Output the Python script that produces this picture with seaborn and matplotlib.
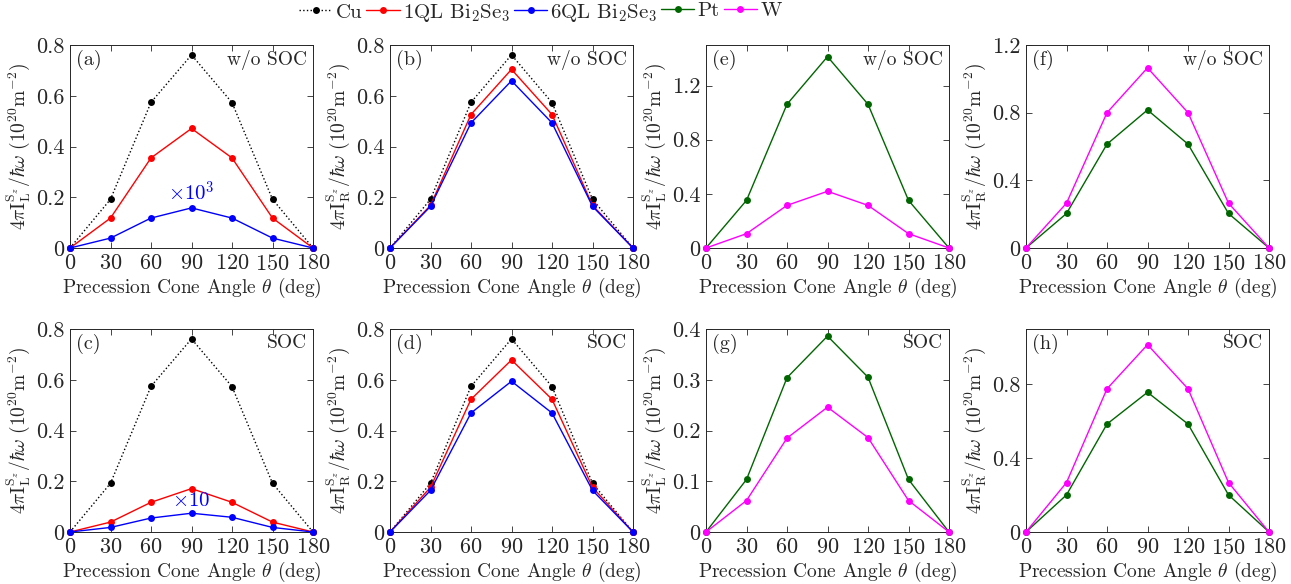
import numpy as np
import pandas as pd
import matplotlib
matplotlib.use("Agg")
import matplotlib.pyplot as plt
import seaborn as sns

# Data
theta = [0, 30, 60, 90, 120, 150, 180]

cu = [0, 0.192, 0.574, 0.761, 0.573, 0.192, 0]

# (a) L, w/o SOC
a_1ql = [0, 0.118, 0.355, 0.471, 0.355, 0.118, 0]
a_6ql = [0, 0.039, 0.118, 0.158, 0.118, 0.039, 0]
# (b) R, w/o SOC
b_1ql = [0, 0.168, 0.526, 0.704, 0.526, 0.168, 0]
b_6ql = [0, 0.164, 0.493, 0.659, 0.493, 0.164, 0]
# (c) L, SOC
c_1ql = [0, 0.039, 0.117, 0.171, 0.117, 0.039, 0]
c_6ql = [0, 0.018, 0.055, 0.074, 0.058, 0.018, 0]
# (d) R, SOC
d_1ql = [0, 0.176, 0.523, 0.678, 0.523, 0.176, 0]
d_6ql = [0, 0.164, 0.469, 0.594, 0.469, 0.164, 0]
# (e) L, w/o SOC
e_pt = [0, 0.352, 1.062, 1.414, 1.062, 0.352, 0]
e_w = [0, 0.106, 0.315, 0.419, 0.315, 0.106, 0]
# (f) R, w/o SOC
f_pt = [0, 0.204, 0.614, 0.816, 0.614, 0.204, 0]
f_w = [0, 0.265, 0.800, 1.065, 0.800, 0.265, 0]
# (g) L, SOC
g_pt = [0, 0.1035, 0.304, 0.386, 0.305, 0.1035, 0]
g_w = [0, 0.062, 0.185, 0.246, 0.186, 0.062, 0]
# (h) R, SOC
h_pt = [0, 0.201, 0.585, 0.757, 0.585, 0.201, 0]
h_w = [0, 0.268, 0.776, 1.015, 0.776, 0.268, 0]

names = ["Cu", "1QL Bi$_2$Se$_3$", "6QL Bi$_2$Se$_3$", "Pt", "W"]
colors = ["black", "#ff0000", "#0000ff", "#006600", "#ff00ff"]

sns.set_theme(style="ticks")
plt.rcParams["font.family"] = "serif"
plt.rcParams["font.serif"] = ["cmr10", "DejaVu Serif"]
plt.rcParams["mathtext.fontset"] = "cm"
plt.rcParams["axes.formatter.use_mathtext"] = True
plt.rcParams["axes.unicode_minus"] = False

fig = plt.figure(figsize=(12.91, 5.84), dpi=100)

lefts = [70, 390, 706, 1026]
width = 243 / 1291
row_bottom = [(584 - 248) / 584, (584 - 532) / 584]
height = 203 / 584

ylab_L = r"$4\pi\mathrm{I}_\mathrm{L}^{\mathrm{S}_z}/\hbar\omega\ (10^{20}\mathrm{m}^{-2})$"
ylab_R = r"$4\pi\mathrm{I}_\mathrm{R}^{\mathrm{S}_z}/\hbar\omega\ (10^{20}\mathrm{m}^{-2})$"

panels = [
    # label, row, col, series, ylabel, ymax, yticks, soc text
    ("(a)", 0, 0, [(cu, 0), (a_1ql, 1), (a_6ql, 2)], ylab_L, 0.8, [0, 0.2, 0.4, 0.6, 0.8], "w/o SOC"),
    ("(b)", 0, 1, [(cu, 0), (b_1ql, 1), (b_6ql, 2)], ylab_R, 0.8, [0, 0.2, 0.4, 0.6, 0.8], "w/o SOC"),
    ("(e)", 0, 2, [(e_pt, 3), (e_w, 4)], ylab_L, 1.5, [0, 0.4, 0.8, 1.2], "w/o SOC"),
    ("(f)", 0, 3, [(f_pt, 3), (f_w, 4)], ylab_R, 1.2, [0, 0.4, 0.8, 1.2], "w/o SOC"),
    ("(c)", 1, 0, [(cu, 0), (c_1ql, 1), (c_6ql, 2)], ylab_L, 0.8, [0, 0.2, 0.4, 0.6, 0.8], "SOC"),
    ("(d)", 1, 1, [(cu, 0), (d_1ql, 1), (d_6ql, 2)], ylab_R, 0.8, [0, 0.2, 0.4, 0.6, 0.8], "SOC"),
    ("(g)", 1, 2, [(g_pt, 3), (g_w, 4)], ylab_L, 0.4, [0, 0.1, 0.2, 0.3, 0.4], "SOC"),
    ("(h)", 1, 3, [(h_pt, 3), (h_w, 4)], ylab_R, 1.1, [0, 0.4, 0.8], "SOC"),
]

ink = "#262626"
handles = {}
for lab, r, c, series, ylab, ymax, yt, soc in panels:
    ax = fig.add_axes([lefts[c] / 1291, row_bottom[r], width, height])
    for vals, k in series:
        df = pd.DataFrame({"theta": theta, "val": vals})
        sns.lineplot(data=df, x="theta", y="val", ax=ax, color=colors[k],
                     linestyle=":" if k == 0 else "-", linewidth=1.0,
                     marker="o", markersize=5, markeredgewidth=0,
                     label=names[k], legend=False, clip_on=False, zorder=3)
        handles[k] = ax.lines[-1]
    ax.set_xlim(0, 180)
    ax.set_ylim(0, ymax)
    ax.set_xticks(theta)
    ax.set_yticks(yt)
    ax.set_yticklabels([f"{v:g}" for v in yt])
    ax.tick_params(direction="in", top=True, right=True, length=4, width=0.6,
                   labelsize=16, pad=4, colors=ink)
    for s in ax.spines.values():
        s.set_linewidth(0.7)
        s.set_color(ink)
    ax.set_xlabel(r"Precession Cone Angle $\theta$ (deg)", fontsize=14, color=ink, labelpad=2)
    ax.set_ylabel(ylab, fontsize=14, color=ink, labelpad=3)
    ax.text(0.025, 0.975, lab, transform=ax.transAxes, ha="left", va="top", fontsize=14.5, color=ink)
    ax.text(0.975, 0.975, soc, transform=ax.transAxes, ha="right", va="top", fontsize=14, color=ink)
    if lab == "(a)":
        ax.text(90, 0.17, r"$\times10^3$", color="#0000ff", ha="center", va="bottom", fontsize=15)
    if lab == "(c)":
        ax.text(90, 0.085, r"$\times10$", color="#0000ff", ha="center", va="bottom", fontsize=15)

leg_kw = dict(loc="upper left", frameon=False, fontsize=15, handlelength=1.6,
              handletextpad=0.15, columnspacing=0.2, borderpad=0, borderaxespad=0)
fig.legend([handles[k] for k in range(3)], names[:3], ncol=3,
           bbox_to_anchor=(299 / 1291, 0.997), **leg_kw)
fig.legend([handles[k] for k in range(3, 5)], names[3:], ncol=2,
           bbox_to_anchor=(661 / 1291, 0.997), **leg_kw)

fig.savefig("out.png", dpi=100)
